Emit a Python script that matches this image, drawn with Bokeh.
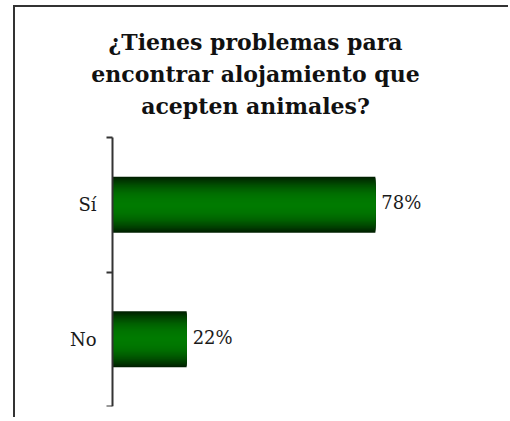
from bokeh.plotting import figure
from bokeh.models import Range1d, FixedTicker, Label, ColumnDataSource
from bokeh.core.properties import value
from bokeh.embed import file_html
from bokeh.resources import INLINE

# ---- data ----
title_lines = ["¿Tienes problemas para", "encontrar alojamiento que", "acepten animales?"]
categories = ["Sí", "No"]
values = [78, 22]
value_labels = ["78%", "22%"]

n = len(categories)
y_pos = [n - i - 0.5 for i in range(n)]
boundaries = [float(b) for b in range(n + 1)]

# ---- layout constants (pixels) ----
W, H = 495, 412
axis_px = 97          # axis position from canvas left
bottom_b = 13
px_per_pct = 3.37
px_per_cat = 134.5
frame_h = H - bottom_b
x0 = -axis_px / px_per_pct

p = figure(width=W, height=H, output_backend="svg", toolbar_location=None,
           x_range=Range1d(x0, x0 + W / px_per_pct),
           y_range=Range1d(0, frame_h / px_per_cat), title=None,
           min_border_left=0, min_border_top=0, min_border_bottom=bottom_b,
           min_border_right=0)
p.margin = (5, 0, 0, 13)
p.styles = {"border-left": "2px solid #333333", "border-top": "2px solid #333333"}
p.background_fill_color = "white"
p.border_fill_color = "white"
p.outline_line_color = None
p.xgrid.visible = False
p.ygrid.visible = False
p.xaxis.visible = False

ax = p.yaxis[0]
ax.fixed_location = 0
ax.bounds = (0, n)
ax.ticker = FixedTicker(ticks=y_pos, minor_ticks=boundaries)
ax.major_label_overrides = {float(y): c for y, c in zip(y_pos, categories)}
ax.major_tick_out = 0
ax.major_tick_in = 0
ax.minor_tick_out = 6
ax.minor_tick_in = 0
ax.minor_tick_line_color = "#333333"
ax.minor_tick_line_width = 2
ax.axis_line_color = "#333333"
ax.axis_line_width = 2
ax.major_label_standoff = 10
ax.major_label_text_font = "DejaVu Serif"
ax.major_label_text_font_size = "18px"
ax.major_label_text_color = "#1a1a1a"

# gradient bars: nested bars, outer dark -> inner bright
bar_h = 0.415
N = 24
dark = (0, 32, 0)
bright = (0, 122, 0)
for k in range(N):
    d = 1 - k / N
    f = 1 - d ** 2.2
    col = "#%02x%02x%02x" % tuple(int(round(dk + (br - dk) * f)) for dk, br in zip(dark, bright))
    src = ColumnDataSource(dict(y=y_pos, right=values))
    p.hbar(y="y", right="right", left=0, height=bar_h * d, source=src,
           fill_color=col, line_color=None)

lab_src = ColumnDataSource(dict(x=values, y=y_pos, text=value_labels))
p.text(x="x", y="y", text="text", source=lab_src, x_offset=6, y_offset=-2,
       text_baseline="middle", text_align="left", text_font=value("DejaVu Serif"),
       text_font_size="18px", text_color="#1a1a1a")

# title lines, screen units from frame bottom-left
title_x = 240
title_baselines = [365, 333, 301]
for line, yb in zip(title_lines, title_baselines):
    p.add_layout(Label(x=title_x, y=yb, x_units="screen", y_units="screen", text=line,
                       text_align="center", text_baseline="alphabetic",
                       text_font="DejaVu Serif", text_font_style="bold",
                       text_font_size="22px", text_color="#111111"))

open("out.html", "w").write(file_html(p, INLINE))
